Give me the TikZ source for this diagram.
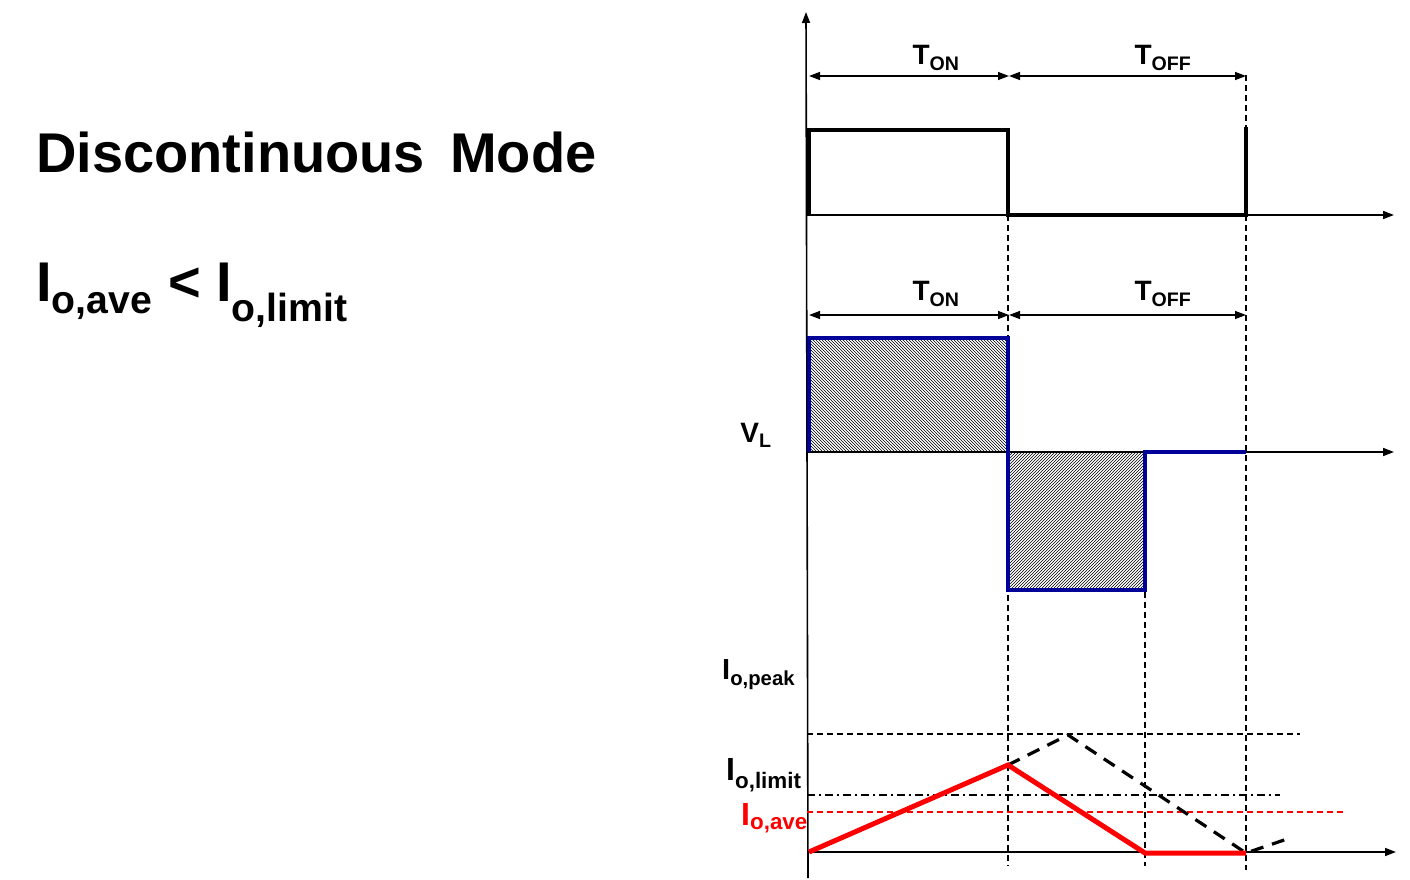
\documentclass[tikz,border=0pt]{standalone}
\usepackage{fontspec}
\setmainfont{Liberation Sans}
\usetikzlibrary{patterns,arrows.meta}
\begin{document}
\begin{tikzpicture}[x=1pt,y=-1pt,
 ax/.style={line width=1.6pt,-{Triangle[length=11pt,width=8pt]}},
 dim/.style={line width=1.4pt,{Triangle[length=11pt,width=8pt]}-{Triangle[length=11pt,width=8pt]}},
 vd/.style={line width=1.2pt,dash pattern=on 6pt off 4pt},
 lbl/.style={font=\bfseries,inner sep=0pt}]
\useasboundingbox (0,0) rectangle (1410,880);
% title
\node[lbl,anchor=west,font=\bfseries\fontsize{56}{62}\selectfont] (title) at (36,152) {Discontinuous\hspace{0.45em}Mode};
\node[lbl,anchor=west,font=\bfseries\fontsize{56}{62}\selectfont] (cond) at (36,295) {I\textsubscript{o,ave} < I\textsubscript{o,limit}};
% axes
\coordinate (vb) at (808,878); \coordinate (vt) at (806,12);
\draw[ax] (vb) -- (vt);
\coordinate (a1) at (807,215); \coordinate (a1e) at (1394,215);
\coordinate (a2) at (807,452); \coordinate (a2e) at (1394,452);
\coordinate (a3) at (807,852); \coordinate (a3e) at (1396,852);
\draw[ax] (a1) -- (a1e); \draw[ax] (a2) -- (a2e); \draw[ax] (a3) -- (a3e);
% dashed verticals
\coordinate (d1t) at (1008,215); \coordinate (d1b) at (1008,866);
\coordinate (d2t) at (1246,75); \coordinate (d2b) at (1246,870);
\coordinate (d3t) at (1145,452); \coordinate (d3b) at (1145,866);
\draw[vd] (d1t)--(d1b); \draw[vd] (d2t)--(d2b); \draw[vd] (d3t)--(d3b);
% hatches
\fill[pattern=north west lines] (809,338) rectangle (1008,452);
\fill[pattern=north east lines] (1008,452) rectangle (1145,590);
% pulse
\draw[line width=4.5pt] (809,215) -- (809,130) -- (1008,130) -- (1008,215) -- (1246,215) -- (1246,127);
% VL
\draw[line width=4pt,blue!60!black] (809,452) -- (809,338) -- (1008,338) -- (1008,590) -- (1145,590) -- (1145,452) -- (1246,452);
% dimension arrows
\coordinate (t1a) at (809,76); \coordinate (t1b) at (1009,76); \coordinate (t1c) at (1246,76);
\draw[dim] (t1a) -- (t1b); \draw[dim] (t1b) -- (t1c);
\coordinate (t2a) at (809,315); \coordinate (t2b) at (1009,315); \coordinate (t2c) at (1246,315);
\draw[dim] (t2a) -- (t2b); \draw[dim] (t2b) -- (t2c);
\node[lbl,font=\bfseries\fontsize{28}{32}\selectfont] (ton1) at (936,58) {T\textsubscript{ON}};
\node[lbl,font=\bfseries\fontsize{28}{32}\selectfont] (toff1) at (1163,58) {T\textsubscript{OFF}};
\node[lbl,font=\bfseries\fontsize{28}{32}\selectfont] (ton2) at (936,294) {T\textsubscript{ON}};
\node[lbl,font=\bfseries\fontsize{28}{32}\selectfont] (toff2) at (1163,294) {T\textsubscript{OFF}};
\node[lbl,font=\bfseries\fontsize{28}{32}\selectfont] (vl) at (756,435) {V\textsubscript{L}};
% current levels
\draw[line width=1.2pt,dash pattern=on 6pt off 4pt] (807,734) -- (1300,734);
\draw[dash pattern=on 8pt off 4pt on 2pt off 4pt,line width=1.2pt] (807,795) -- (1280,795);
\draw[red,line width=1.2pt,dash pattern=on 6pt off 4pt] (807,812) -- (1345,812);
\draw[line width=3.2pt,dash pattern=on 13pt off 9pt] (1008,765) -- (1068,735) -- (1246,853) -- (1290,838);
\draw[red,line width=5pt] (809,852) -- (1008,765) -- (1145,853) -- (1246,853);
\node[lbl,anchor=west,font=\bfseries\fontsize{29}{33}\selectfont] (pk) at (722,675) {I\textsubscript{o,peak}};
\node[lbl,anchor=west,font=\bfseries\fontsize{32}{36}\selectfont] (lim) at (726,775) {I\textsubscript{o,limit}};
\node[lbl,anchor=west,red,font=\bfseries\fontsize{32}{36}\selectfont] (ave) at (741,818) {I\textsubscript{o,ave}};
\end{tikzpicture}
\end{document}
